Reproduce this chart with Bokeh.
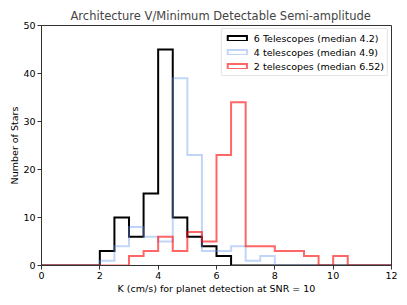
from bokeh.plotting import figure
from bokeh.models import Range1d, Legend, LegendItem, FixedTicker
from bokeh.embed import file_html
from bokeh.resources import INLINE

# Histogram bin edges (K in cm/s) and star counts per bin
bin_edges = [0.0, 0.5, 1.0, 1.5, 2.0, 2.5, 3.0, 3.5, 4.0, 4.5, 5.0, 5.5, 6.0,
             6.5, 7.0, 7.5, 8.0, 8.5, 9.0, 9.5, 10.0, 10.5, 11.0, 11.5, 12.0]
counts_6tel = [0, 0, 0, 0, 3, 10, 6, 15, 45, 10, 6, 4, 2, 0, 0, 0, 0, 0, 0, 0, 0, 0, 0, 0]
counts_4tel = [0, 0, 0, 0, 1, 4, 8, 6, 5, 39, 23, 3, 3, 4, 1, 2, 0, 0, 0, 0, 0, 0, 0, 0]
counts_2tel = [0, 0, 0, 0, 0, 0, 2, 3, 6, 3, 7, 5, 23, 34, 4, 4, 3, 3, 2, 0, 2, 0, 0, 0]
labels = ["6 Telescopes (median 4.2)", "4 telescopes (median 4.9)", "2 telescopes (median 6.52)"]
x_ticks = [0, 2, 4, 6, 8, 10, 12]
y_ticks = [0, 10, 20, 30, 40, 50]

FONT = "DejaVu Sans"
FS = "9.5px"

p = figure(width=407, height=305, output_backend="svg", toolbar_location=None,
           x_range=Range1d(0, 12), y_range=Range1d(0, 50),
           title="Architecture V/Minimum Detectable Semi-amplitude",
           min_border_left=41, min_border_right=16, min_border_top=25, min_border_bottom=40)

p.title.text_font = FONT
p.title.text_font_size = "11.5px"
p.title.text_font_style = "normal"
p.title.align = "left"
p.title.offset = 29
p.title.standoff = 6

p.xgrid.visible = False
p.ygrid.visible = False
p.outline_line_color = "#333333"
p.outline_line_width = 1

for ax in (p.xaxis[0], p.yaxis[0]):
    ax.axis_line_color = "#333333"
    ax.major_tick_line_color = "#333333"
    ax.major_tick_out = 4
    ax.major_tick_in = 0
    ax.minor_tick_out = 0
    ax.minor_tick_in = 0
    ax.major_label_text_font = FONT
    ax.major_label_text_font_size = FS
    ax.major_label_text_color = "black"
    ax.axis_label_text_font = FONT
    ax.axis_label_text_font_size = FS
    ax.axis_label_text_font_style = "normal"
    ax.axis_label_text_color = "black"
    ax.major_label_standoff = 2

p.xaxis.ticker = FixedTicker(ticks=x_ticks)
p.yaxis.ticker = FixedTicker(ticks=y_ticks)
p.xaxis.axis_label = "K (cm/s) for planet detection at SNR = 10"
p.yaxis.axis_label = "Number of Stars"
p.xaxis.axis_label_standoff = 1
p.yaxis.axis_label_standoff = 0

series = [
    (counts_6tel, "black", 1.0),
    (counts_4tel, "cornflowerblue", 0.4),
    (counts_2tel, "red", 0.6),
]

items = []
for (counts, color, alpha), label in zip(series, labels):
    yvals = list(counts) + [counts[-1]]
    p.step(x=bin_edges, y=yvals, mode="after", line_color=color, line_alpha=alpha,
           line_width=2, line_join="miter")
    # hidden bar outlines, used only for the rectangular legend swatch
    swatch = p.quad(left=bin_edges[:-1], right=bin_edges[1:], top=counts, bottom=0,
                    fill_alpha=0, line_color=color, line_alpha=alpha, line_width=2,
                    line_join="miter", visible=False)
    items.append(LegendItem(label=label, renderers=[swatch]))

legend = Legend(items=items, location="top_right")
legend.label_text_font = FONT
legend.label_text_font_size = FS
legend.label_text_color = "black"
legend.glyph_width = 24
legend.glyph_height = 6
legend.label_height = 12
legend.label_standoff = 5
legend.spacing = 2
legend.padding = 3
legend.margin = 3
legend.border_line_color = "#cccccc"
legend.border_line_width = 1
legend.border_radius = 2
legend.background_fill_alpha = 0.8
p.add_layout(legend)

open("out.html", "w").write(file_html(p, INLINE))
